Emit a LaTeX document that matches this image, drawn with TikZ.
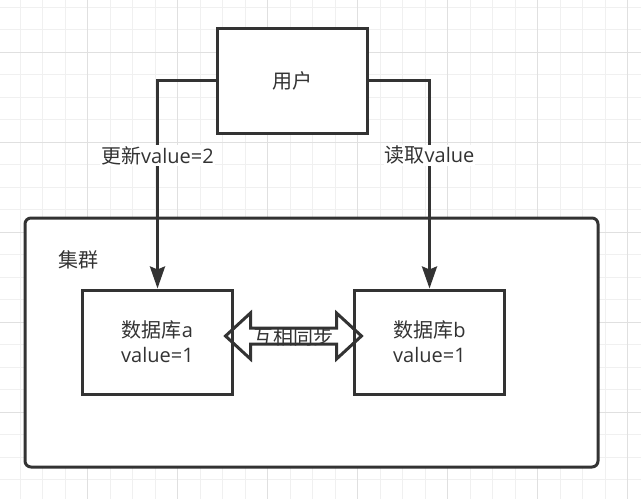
\documentclass[tikz,border=0pt]{standalone}
\usepackage{fontspec}
\setmainfont{Open Sans}
\newfontfamily\cjk{Noto Sans CJK SC}
\usetikzlibrary{positioning, arrows.meta, calc}

\definecolor{ink}{HTML}{333333}
\definecolor{gridlight}{HTML}{F0F0F0}
\definecolor{griddark}{HTML}{E0E0E0}

\tikzset{
	txt/.style={text=ink, font=\fontsize{20}{25}\selectfont},
	box/.style={txt, draw=ink, line width=3pt, fill=white, minimum width=150pt, align=center},
	conn/.style={draw=ink, line width=3pt, -{Stealth[inset=3pt, width=15pt, length=22pt]}},
	lbl/.style={txt, fill=white, inner sep=1pt},
}

\begin{document}
\begin{tikzpicture}[x=1pt, y=-1pt]
	\useasboundingbox (0,0) rectangle (641,499);
	% grid
	\foreach \k in {0,...,29}
		\draw[gridlight, line width=1pt] (-2.5+22.5*\k,0) -- (-2.5+22.5*\k,499);
	\foreach \k in {0,...,23}
		\draw[gridlight, line width=1pt] (0,-15.5+22.5*\k) -- (641,-15.5+22.5*\k);
	\foreach \k in {1,...,7}
		\draw[griddark, line width=1pt] (-2.5+90*\k,0) -- (-2.5+90*\k,499);
	\foreach \k in {0,...,5}
		\draw[griddark, line width=1pt] (0,52+90*\k) -- (641,52+90*\k);

	\node[draw=ink, line width=3pt, fill=white, rounded corners=6pt, minimum width=573pt, minimum height=249pt] (cluster) at (311.5,342.5) {};
	\node[txt] (title) at (79,260) {\cjk 集群};

	\node[box, minimum height=105pt] (user) at (292.5,80.5) {\cjk 用户};
	\node[box, minimum height=104pt] (dba) at (157.5,342) {{\cjk 数据库}a\\value=1};
	\node[box, minimum height=104pt, right=119pt of dba] (dbb) {{\cjk 数据库}b\\value=1};

	\draw[conn] (user.west) -| node[lbl, pos=0.68] (upd) {{\cjk 更新}value=2} (dba.north);
	\draw[conn] (user.east) -| node[lbl, pos=0.68] (rd) {{\cjk 读取}value} (dbb.north);

	% sync arrow
	\coordinate (mid) at ($(dba.east)!0.5!(dbb.west)+(0,-6)$);
	\draw[draw=ink, line width=3pt, line join=miter] ($(mid)+(-68,0)$) -- ++(25,-23) -- ++(0,15) -- ++(86,0) -- ++(0,-15) -- ++(25,23) -- ++(-25,23) -- ++(0,-15) -- ++(-86,0) -- ++(0,15) -- cycle;
	\node[txt] (sync) at ($(mid)+(0,1)$) {\cjk 互相同步};
\end{tikzpicture}
\end{document}
